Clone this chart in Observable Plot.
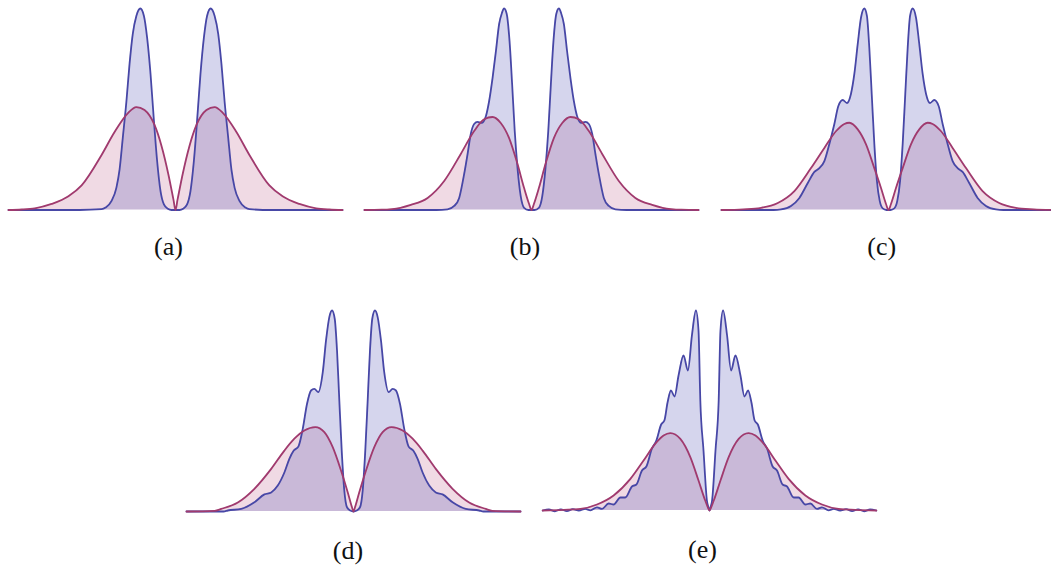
<!DOCTYPE html>
<html><head><meta charset="utf-8">
<script src="https://cdn.jsdelivr.net/npm/d3@7"></script>
<script src="https://cdn.jsdelivr.net/npm/@observablehq/plot@0.6"></script>
<style>
body{margin:0;background:#fff;}
#fig{position:relative;width:1051px;height:568px;overflow:hidden;background:#fff;}
.panel{position:absolute;}
.panel svg{max-width:none !important;display:block;}
.lab{position:absolute;font-family:"Liberation Serif","DejaVu Serif",serif;font-size:26px;color:#111;transform:translate(-50%,-50%);white-space:nowrap;line-height:1;}
</style></head><body><div id="fig"></div>
<script>
// Panel labels
const labels = ["(a)", "(b)", "(c)", "(d)", "(e)"];

// Series values [x, density] (blue = sharp curve, red = smooth curve)
const blueA = [[-4.18,0],[-2.4,0],[-1.85,0.004],[-1.75,0.012],[-1.6,0.045],[-1.48,0.11],[-1.4,0.2],[-1.32,0.357],[-1.23,0.536],[-1.15,0.725],[-1.07,0.873],[-0.98,0.963],[-0.88,1],[-0.79,0.963],[-0.71,0.854],[-0.625,0.675],[-0.54,0.442],[-0.46,0.243],[-0.375,0.094],[-0.29,0.028],[-0.19,0.006],[-0.1,0],[0,0],
  [0.1,0],[0.19,0.006],[0.29,0.028],[0.375,0.094],[0.46,0.243],[0.54,0.442],[0.625,0.675],[0.71,0.854],[0.79,0.963],[0.88,1],[0.98,0.963],[1.07,0.873],[1.15,0.725],[1.23,0.536],[1.32,0.357],[1.4,0.2],[1.48,0.11],[1.6,0.045],[1.75,0.012],[1.85,0.004],[2.4,0],[4.18,0]];
const redA = [[-4.18,0],[-3.85,0.0025],[-3.52,0.0085],[-3.1,0.03],[-2.68,0.068],[-2.35,0.122],[-1.85,0.273],[-1.525,0.387],[-1.19,0.481],[-0.98,0.511],[-0.775,0.496],[-0.525,0.422],[-0.35,0.318],[-0.175,0.174],[-0.05,0.05],[0,0],
  [0.05,0.05],[0.175,0.174],[0.35,0.318],[0.525,0.422],[0.775,0.496],[0.98,0.511],[1.19,0.481],[1.525,0.387],[1.85,0.273],[2.35,0.122],[2.68,0.068],[3.1,0.03],[3.52,0.0085],[3.85,0.0025],[4.18,0]];

const blueB = [[-4.18,0],[-2.38,0],[-2.1,0.003],[-1.935,0.02],[-1.81,0.06],[-1.685,0.179],[-1.6,0.278],[-1.52,0.377],[-1.435,0.427],[-1.35,0.437],[-1.25,0.432],[-1.14,0.467],[-1.06,0.541],[-0.975,0.655],[-0.89,0.789],[-0.81,0.923],[-0.74,0.978],[-0.685,1],[-0.62,0.973],[-0.55,0.839],[-0.485,0.625],[-0.42,0.392],[-0.35,0.208],[-0.27,0.069],[-0.185,0.011],[-0.075,0],[0,0],
  [0.075,0],[0.185,0.011],[0.27,0.069],[0.35,0.208],[0.42,0.392],[0.485,0.625],[0.55,0.839],[0.62,0.973],[0.685,1],[0.74,0.978],[0.81,0.923],[0.89,0.789],[0.975,0.655],[1.06,0.541],[1.14,0.467],[1.25,0.432],[1.35,0.437],[1.435,0.427],[1.52,0.377],[1.6,0.278],[1.685,0.179],[1.81,0.06],[1.935,0.02],[2.1,0.003],[2.38,0],[4.18,0]];
const redB = [[-4.18,0],[-3.75,0.0015],[-3.28,0.011],[-3.02,0.025],[-2.6,0.06],[-2.185,0.144],[-1.77,0.278],[-1.435,0.392],[-1.185,0.45],[-0.975,0.4615],[-0.77,0.432],[-0.56,0.357],[-0.35,0.228],[-0.185,0.109],[-0.06,0.03],[0,0],
  [0.06,0.03],[0.185,0.109],[0.35,0.228],[0.56,0.357],[0.77,0.432],[0.975,0.4615],[1.185,0.45],[1.435,0.392],[1.77,0.278],[2.185,0.144],[2.6,0.06],[3.02,0.025],[3.28,0.011],[3.75,0.0015],[4.18,0]];

const blueC = [[-4.18,0],[-2.875,0],[-2.69,0.003],[-2.44,0.02],[-2.23,0.06],[-2.02,0.134],[-1.855,0.189],[-1.73,0.208],[-1.605,0.243],[-1.48,0.328],[-1.355,0.427],[-1.255,0.516],[-1.145,0.546],[-1.04,0.531],[-0.94,0.576],[-0.855,0.675],[-0.77,0.824],[-0.69,0.953],[-0.605,1],[-0.54,0.963],[-0.48,0.804],[-0.42,0.576],[-0.355,0.328],[-0.29,0.144],[-0.22,0.045],[-0.145,0.008],[-0.05,0],[0,0],
  [0.05,0],[0.145,0.008],[0.22,0.045],[0.29,0.144],[0.355,0.328],[0.42,0.576],[0.48,0.804],[0.54,0.963],[0.605,1],[0.69,0.953],[0.77,0.824],[0.855,0.675],[0.94,0.576],[1.04,0.531],[1.145,0.546],[1.255,0.516],[1.355,0.427],[1.48,0.328],[1.605,0.243],[1.73,0.208],[1.855,0.189],[2.02,0.134],[2.23,0.06],[2.44,0.02],[2.69,0.003],[2.875,0],[4.18,0]];
const redC = [[-4.18,0],[-3.625,0.0035],[-3.19,0.011],[-2.77,0.035],[-2.355,0.094],[-1.94,0.208],[-1.605,0.308],[-1.31,0.392],[-1.105,0.427],[-0.98,0.433],[-0.77,0.4],[-0.5625,0.326],[-0.355,0.208],[-0.1875,0.109],[-0.0625,0.03],[0,0],
  [0.0625,0.03],[0.1875,0.109],[0.355,0.208],[0.5625,0.326],[0.77,0.4],[0.98,0.433],[1.105,0.427],[1.31,0.392],[1.605,0.308],[1.94,0.208],[2.355,0.094],[2.77,0.035],[3.19,0.011],[3.625,0.0035],[4.18,0]];

const blueD = [[-4.18,0],[-3.25,0],[-3.145,0.005],[-2.81,0.013],[-2.48,0.046],[-2.23,0.085],[-2.06,0.095],[-1.895,0.129],[-1.73,0.194],[-1.605,0.262],[-1.495,0.303],[-1.38,0.323],[-1.27,0.411],[-1.1625,0.536],[-1.0625,0.602],[-0.98,0.61],[-0.88,0.594],[-0.77,0.692],[-0.6875,0.851],[-0.605,0.967],[-0.5375,1],[-0.47,0.959],[-0.4125,0.801],[-0.355,0.552],[-0.295,0.303],[-0.23,0.104],[-0.1625,0.021],[-0.08,0.005],[0,0],
  [0.08,0.005],[0.1625,0.021],[0.23,0.104],[0.295,0.303],[0.355,0.552],[0.4125,0.801],[0.47,0.959],[0.5375,1],[0.605,0.967],[0.6875,0.851],[0.77,0.692],[0.88,0.594],[0.98,0.61],[1.0625,0.602],[1.1625,0.536],[1.27,0.411],[1.38,0.323],[1.495,0.303],[1.605,0.262],[1.73,0.194],[1.895,0.129],[2.06,0.095],[2.23,0.085],[2.48,0.046],[2.81,0.013],[3.145,0.005],[3.25,0],[4.18,0]];
const redD = [[-4.18,0],[-3.475,0.0035],[-3.31,0.013],[-2.895,0.045],[-2.48,0.113],[-2.06,0.212],[-1.73,0.303],[-1.48,0.362],[-1.23,0.403],[-0.955,0.42],[-0.73,0.395],[-0.52,0.32],[-0.3125,0.204],[-0.145,0.096],[-0.0375,0.021],[0,0],
  [0.0375,0.021],[0.145,0.096],[0.3125,0.204],[0.52,0.32],[0.73,0.395],[0.955,0.42],[1.23,0.403],[1.48,0.362],[1.73,0.303],[2.06,0.212],[2.48,0.113],[2.895,0.045],[3.31,0.013],[3.475,0.0035],[4.18,0]];

const blueE = [[-4.175,0],[-4.02,0.005],[-3.87,-0.004],[-3.72,0.006],[-3.57,-0.003],[-3.42,0.007],[-3.27,0],[-3.11,0.0085],[-2.98,0.001],[-2.815,0.016],[-2.69,0.008],[-2.525,0.035],[-2.4,0.03],[-2.23,0.065],[-2.11,0.065],[-1.94,0.12],[-1.83,0.13],[-1.69,0.2],[-1.58,0.22],[-1.44,0.31],[-1.33,0.35],[-1.21,0.43],[-1.13,0.45],[-1.05,0.54],[-0.965,0.6],[-0.875,0.57],[-0.775,0.675],[-0.65,0.775],[-0.54,0.7],[-0.44,0.875],[-0.34,1],[-0.275,0.9],[-0.23,0.55],[-0.15,0.3],[-0.065,0.05],[-0.025,0.015],[0,0],
  [0.025,0.015],[0.065,0.05],[0.15,0.3],[0.23,0.55],[0.275,0.9],[0.34,1],[0.44,0.875],[0.54,0.7],[0.65,0.775],[0.775,0.675],[0.875,0.57],[0.965,0.6],[1.05,0.54],[1.13,0.45],[1.21,0.43],[1.33,0.35],[1.44,0.31],[1.58,0.22],[1.69,0.2],[1.83,0.13],[1.94,0.12],[2.11,0.065],[2.23,0.065],[2.4,0.03],[2.525,0.035],[2.69,0.008],[2.815,0.016],[2.98,0.001],[3.11,0.0085],[3.27,0],[3.42,0.007],[3.57,-0.003],[3.72,0.006],[3.87,-0.004],[4.02,0.005],[4.175,0]];
const redE = [[-4.175,0],[-3.65,0.0035],[-3.23,0.008],[-2.815,0.03],[-2.4,0.075],[-1.98,0.158],[-1.65,0.25],[-1.36,0.333],[-1.15,0.375],[-0.98,0.387],[-0.73,0.358],[-0.48,0.267],[-0.275,0.15],[-0.1075,0.05],[-0.025,0.0085],[0,0],
  [0.025,0.0085],[0.1075,0.05],[0.275,0.15],[0.48,0.267],[0.73,0.358],[0.98,0.387],[1.15,0.375],[1.36,0.333],[1.65,0.25],[1.98,0.158],[2.4,0.075],[2.815,0.03],[3.23,0.008],[3.65,0.0035],[4.175,0]];

const blueSeries = [blueA, blueB, blueC, blueD, blueE];
const redSeries = [redA, redB, redC, redD, redE];

// Layout (page positions of each panel, kept apart from the data)
const layout = [
  {cx:174.5, base:209, top:7.5, lx:168.5, ly:247},
  {cx:530.8, base:209, top:7.5, lx:525, ly:247},
  {cx:887.5, base:209, top:7.5, lx:881.7, ly:247},
  {cx:352.5, base:511, top:310, lx:348, ly:551},
  {cx:709.3, base:510, top:310, lx:702.5, ly:550}
];
const halfW = 167, mL = 3, mR = 3, mT = 4, mB = 4;
const BLUE = "#4747a6", RED = "#a03a6e";

const fig = document.getElementById("fig");
labels.forEach((lab, i) => {
  const L = layout[i];
  const innerH = L.base - L.top;
  const W = 2 * halfW + mL + mR, H = innerH + mT + mB;
  const svg = Plot.plot({
    width: W,
    height: H,
    marginLeft: mL, marginRight: mR, marginTop: mT, marginBottom: mB,
    x: {domain: [-4.18, 4.18], axis: null},
    y: {domain: [0, 1], axis: null},
    style: {background: "transparent", overflow: "visible", maxWidth: "none"},
    marks: [
      Plot.areaY(redSeries[i], {x: d => d[0], y: d => d[1], fill: "#b4447a", fillOpacity: 0.2, curve: "monotone-x"}),
      Plot.areaY(blueSeries[i], {x: d => d[0], y: d => d[1], fill: "#5050b4", fillOpacity: 0.24, curve: "monotone-x"}),
      Plot.lineY(blueSeries[i], {x: d => d[0], y: d => d[1], stroke: BLUE, strokeWidth: 1.8, curve: "monotone-x"}),
      Plot.lineY(redSeries[i], {x: d => d[0], y: d => d[1], stroke: RED, strokeWidth: 1.8, curve: "monotone-x"})
    ]
  });
  svg.style.maxWidth = "none";
  svg.setAttribute("width", W);
  svg.setAttribute("height", H);
  const div = document.createElement("div");
  div.className = "panel";
  div.style.left = (L.cx - halfW - mL) + "px";
  div.style.top = (L.top - mT) + "px";
  div.style.width = W + "px";
  div.style.height = H + "px";
  div.appendChild(svg);
  fig.appendChild(div);
  const t = document.createElement("div");
  t.className = "lab";
  t.textContent = lab;
  t.style.left = L.lx + "px";
  t.style.top = L.ly + "px";
  fig.appendChild(t);
});
</script></body></html>
